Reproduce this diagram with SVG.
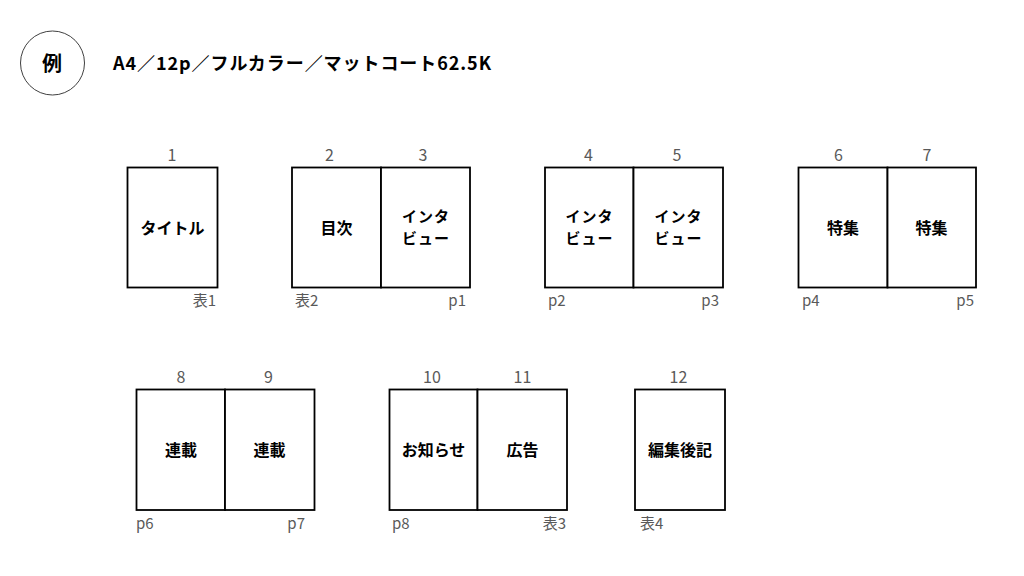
<svg xmlns="http://www.w3.org/2000/svg" width="1024" height="576" viewBox="0 0 1024 576">
<style>
.pg{fill:#fff;stroke:#000;stroke-width:1.8}
.num{font-family:"Noto Sans CJK JP","Noto Sans",sans-serif;font-size:16px;fill:#595959;text-anchor:middle}
.lbl{font-family:"Noto Sans CJK JP","Noto Sans",sans-serif;font-size:15px;fill:#595959}
.r{text-anchor:end}
.c{font-family:"Noto Sans CJK JP",sans-serif;font-size:16px;font-weight:bold;fill:#000;text-anchor:middle}
.c2{font-family:"Noto Sans CJK JP",sans-serif;font-size:15px;font-weight:bold;fill:#000;text-anchor:middle;letter-spacing:1px}
.hd{font-family:"Noto Sans CJK JP",sans-serif;font-weight:bold;fill:#000}
</style>
<rect width="1024" height="576" fill="#fff"/>
<g id="header">
<circle cx="52.5" cy="63" r="32" fill="#fff" stroke="#404040" stroke-width="1"/>
<text class="hd" x="52" y="71" font-size="20" text-anchor="middle">例</text>
<text class="hd" x="113" y="70" font-size="18" textLength="378" lengthAdjust="spacing">A4／12p／フルカラー／マットコート62.5K</text>
</g>
<g id="p1">
<rect class="pg" x="127.5" y="167.5" width="90" height="120"/>
<text class="num" x="172" y="161">1</text>
<text class="c" x="172.5" y="234">タイトル</text>
<text class="lbl r" x="216" y="306">表1</text>
</g>
<g id="p2-3">
<rect class="pg" x="292" y="167.5" width="89" height="120"/>
<rect class="pg" x="381" y="167.5" width="89" height="120"/>
<text class="num" x="329.5" y="161">2</text>
<text class="num" x="423" y="161">3</text>
<text class="c" x="336.5" y="234">目次</text>
<text class="c2" x="426" y="222">インタ</text>
<text class="c2" x="426" y="244">ビュー</text>
<text class="lbl" x="295" y="306">表2</text>
<text class="lbl r" x="466" y="306">p1</text>
</g>
<g id="p4-5">
<rect class="pg" x="545" y="167.5" width="88.5" height="120"/>
<rect class="pg" x="633.5" y="167.5" width="89.5" height="120"/>
<text class="num" x="588.5" y="161">4</text>
<text class="num" x="677" y="161">5</text>
<text class="c2" x="589.5" y="222">インタ</text>
<text class="c2" x="589.5" y="244">ビュー</text>
<text class="c2" x="678.5" y="222">インタ</text>
<text class="c2" x="678.5" y="244">ビュー</text>
<text class="lbl" x="548" y="306">p2</text>
<text class="lbl r" x="719" y="306">p3</text>
</g>
<g id="p6-7">
<rect class="pg" x="798.5" y="167.5" width="89" height="120"/>
<rect class="pg" x="887.5" y="167.5" width="88.5" height="120"/>
<text class="num" x="838.5" y="161">6</text>
<text class="num" x="927" y="161">7</text>
<text class="c" x="843" y="234">特集</text>
<text class="c" x="931.5" y="234">特集</text>
<text class="lbl" x="802" y="306">p4</text>
<text class="lbl r" x="974" y="306">p5</text>
</g>
<g id="p8-9">
<rect class="pg" x="136.5" y="389.5" width="88.5" height="120.5"/>
<rect class="pg" x="225" y="389.5" width="89.5" height="120.5"/>
<text class="num" x="181" y="383">8</text>
<text class="num" x="268.5" y="383">9</text>
<text class="c" x="181" y="456">連載</text>
<text class="c" x="269.5" y="456">連載</text>
<text class="lbl" x="136" y="529">p6</text>
<text class="lbl r" x="305" y="529">p7</text>
</g>
<g id="p10-11">
<rect class="pg" x="389.5" y="389.5" width="88" height="120.5"/>
<rect class="pg" x="477.5" y="389.5" width="89.5" height="120.5"/>
<text class="num" x="432" y="383">10</text>
<text class="num" x="522.5" y="383">11</text>
<text class="c" x="433.5" y="456">お知らせ</text>
<text class="c" x="522.5" y="456">広告</text>
<text class="lbl" x="392" y="529">p8</text>
<text class="lbl r" x="566" y="529">表3</text>
</g>
<g id="p12">
<rect class="pg" x="635" y="389.5" width="90" height="120.5"/>
<text class="num" x="678.5" y="383">12</text>
<text class="c" x="680" y="456">編集後記</text>
<text class="lbl" x="640" y="529">表4</text>
</g>
<g id="connectors"></g>
</svg>
